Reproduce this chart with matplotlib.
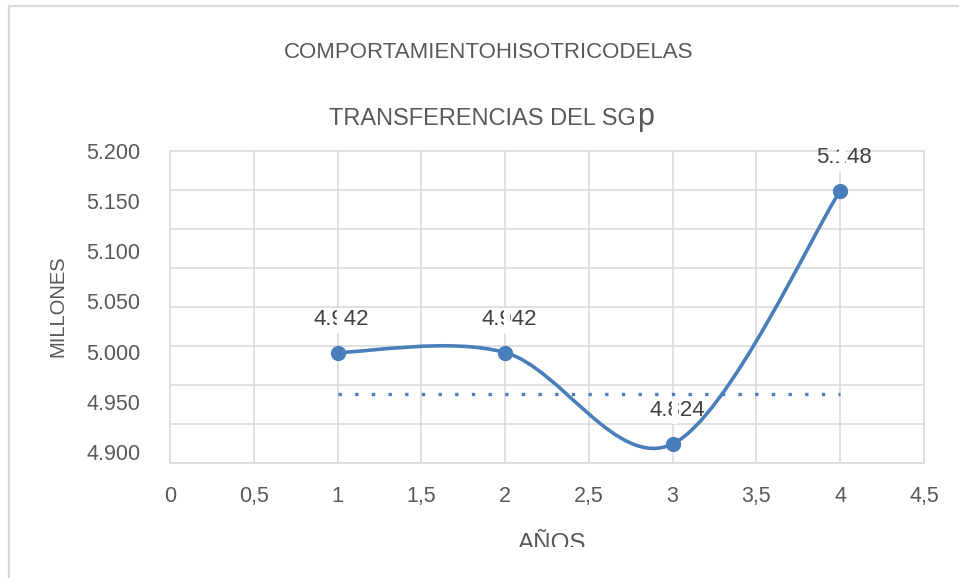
import numpy as np
import matplotlib
matplotlib.use("Agg")
import matplotlib.pyplot as plt
from matplotlib.path import Path
from matplotlib.patches import PathPatch
from matplotlib.lines import Line2D
from matplotlib.transforms import ScaledTranslation, Bbox, TransformedBbox

plt.rcParams['font.family'] = ['Liberation Sans', 'DejaVu Sans']

# data
anios = np.array([1, 2, 3, 4])
valores = np.array([4.999, 4.999, 4.908, 5.160])
etiquetas = ["4.942", "4.942", "4.824", "5.148"]
promedio = 4.958

x_ticks = [0, 0.5, 1, 1.5, 2, 2.5, 3, 3.5, 4, 4.5]
x_labels = ["0", "0,5", "1", "1,5", "2", "2,5", "3", "3,5", "4", "4,5"]
y_ticks = [4.900, 4.950, 5.000, 5.050, 5.100, 5.150, 5.200]
y_labels = ["4.900", "4.950", "5.000", "5.050", "5.100", "5.150", "5.200"]

azul = "#4a7ebb"
gris_grid = "#d9d9d9"
gris_txt = "#595959"

W, H = 959, 578
fig = plt.figure(figsize=(W / 100, H / 100), dpi=100)
ax = fig.add_axes([170 / W, (H - 463.3) / H, (924 - 170) / W, (463.3 - 150.7) / H])

ymin, ymax = 4.8887, 5.2
ax.set_xlim(0, 4.5)
ax.set_ylim(ymin, ymax)

ax.set_xticks(x_ticks)
ax.set_xticklabels(x_labels)
ax.set_yticks(y_ticks)
ax.set_yticklabels(y_labels)
ax.set_yticks(np.linspace(ymin, ymax, 9), minor=True)
ax.tick_params(axis='both', which='both', length=0, labelsize=15.5, colors=gris_txt)
ax.tick_params(axis='y', pad=21.5)
ax.tick_params(axis='x', pad=16.5)

ax.grid(False)
ax.xaxis.grid(True, which='major', color=gris_grid, lw=1.1)
ax.yaxis.grid(True, which='minor', color=gris_grid, lw=1.1)
ax.set_axisbelow(True)
for s in ax.spines.values():
    s.set_color(gris_grid)
    s.set_linewidth(1.1)

# smooth line (Catmull-Rom style bezier, like Excel)
pts = np.column_stack([anios, valores]).astype(float)
ext = np.vstack([pts[0], pts, pts[-1]])
verts = [tuple(pts[0])]
codes = [Path.MOVETO]
for i in range(len(pts) - 1):
    p0, p1, p2, p3 = ext[i], ext[i + 1], ext[i + 2], ext[i + 3]
    c1 = p1 + (p2 - p0) / 6
    c2 = p2 - (p3 - p1) / 6
    verts += [tuple(c1), tuple(c2), tuple(p2)]
    codes += [Path.CURVE4] * 3
ax.add_patch(PathPatch(Path(verts, codes), fill=False, edgecolor=azul, lw=2.6, zorder=3))
ax.plot(anios, valores, 'o', color=azul, ms=10, zorder=4)

# dotted average line
ax.plot([anios[0], anios[-1]], [promedio, promedio], color=azul, lw=2.4,
        linestyle=(0, (1, 4)), dash_capstyle='butt', zorder=3)

# data labels
for xv, yv, t in zip(anios, valores, etiquetas):
    ax.annotate(t, (xv, yv), xytext=(3, 24), textcoords='offset points',
                ha='center', va='center', fontsize=16, color="#404040", zorder=5)
    tr = ax.transData + ScaledTranslation(0.02, 0.33, fig.dpi_scale_trans)
    ax.plot([xv], [yv], marker='|', ms=18, mew=4.5, color='white', transform=tr,
            zorder=6, clip_on=False)

# titles
fig.text(489 / W, 1 - 52 / H, "COMPORTAMIENTOHISOTRICODELAS", ha='center', va='center',
         fontsize=16, color=gris_txt)
t2 = fig.text(482.5 / W, 1 - 125 / H, "TRANSFERENCIAS DEL SG", ha='center', va='baseline',
              fontsize=17, color=gris_txt)
fig.canvas.draw()
bb = t2.get_window_extent()
fig.text(bb.x1 / W + 1 / W, 1 - 125 / H, "p", ha='left', va='baseline',
         fontsize=22, color=gris_txt)

# axis titles
fig.text(58 / W, 1 - 306 / H, "MILLONES", rotation=90, ha='center', va='center',
         fontsize=14.5, color=gris_txt)
ta = fig.text(552 / W, 1 - 550 / H, "AÑOS", ha='center', va='baseline',
              fontsize=17.5, color=gris_txt)
clip = TransformedBbox(Bbox([[0, (H - 546.5) / H], [1, 1]]), fig.transFigure)
ta.set_clip_box(clip)
ta.set_clip_on(True)

# outer frame (left and top only)
fig.add_artist(Line2D([8.5 / W, 8.5 / W], [0, 1 - 6 / H], transform=fig.transFigure,
                      color=gris_grid, lw=1.6))
fig.add_artist(Line2D([8.5 / W, 1], [1 - 6 / H, 1 - 6 / H], transform=fig.transFigure,
                      color=gris_grid, lw=1.6))

fig.savefig("out.png", dpi=100)
